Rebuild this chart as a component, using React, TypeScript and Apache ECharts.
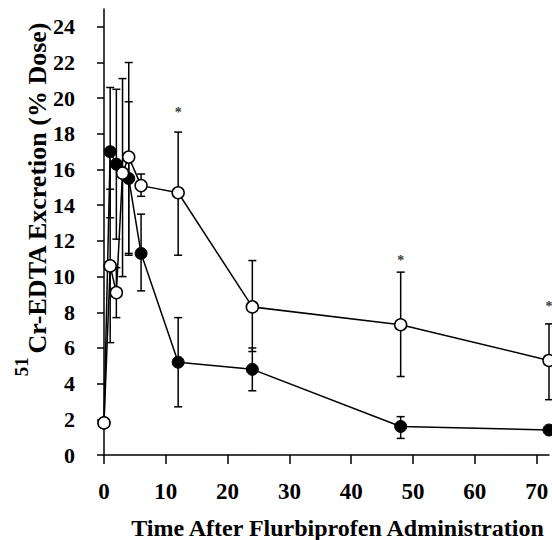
import React, { useEffect, useRef } from "react";
import * as echarts from "echarts";

// Time (h)
const times = [0, 1, 2, 3, 4, 6, 12, 24, 48, 72];
// Open circles series
const openMean = [1.8, 10.6, 9.1, 15.8, 16.7, 15.1, 14.7, 8.3, 7.3, 5.3];
const openUpper = [null, 14.9, 10.5, 21.1, 22.0, 15.75, 18.1, 10.9, 10.25, 7.35];
const openLower = [null, 6.3, 7.7, 10.0, 11.3, 14.5, 11.2, 5.8, 4.4, 3.1];
// Filled circles series
const filledMean = [1.8, 17.0, 16.3, 15.8, 15.5, 11.3, 5.2, 4.8, 1.6, 1.4];
const filledUpper = [null, 20.6, 20.5, null, 19.8, 13.5, 7.7, 6.0, 2.15, null];
const filledLower = [null, 13.3, 12.1, null, 11.2, 9.2, 2.7, 3.6, 0.93, null];
// Significance markers
const starTimes = [12, 48, 72];
const starY = [19.2, 10.9, 8.3];
// Axis ticks
const xTicks = [0, 10, 20, 30, 40, 50, 60, 70];
const yTicks = [0, 2, 4, 6, 8, 10, 12, 14, 16, 18, 20, 22, 24];

const FONT = "'Liberation Serif', 'Times New Roman', serif";

function errData(up: (number | null)[], lo: (number | null)[]) {
  const out: number[][] = [];
  times.forEach((t, i) => {
    const u = up[i];
    const l = lo[i];
    if (u != null && l != null) out.push([t, l, u]);
  });
  return out;
}

function errSeries(data: number[][], z: number) {
  return {
    type: "custom",
    z,
    silent: true,
    data,
    renderItem: (params: any, api: any) => {
      const x = api.value(0);
      const lo = api.coord([x, api.value(1)]);
      const hi = api.coord([x, api.value(2)]);
      const hw = 4;
      const style = { stroke: "#000", lineWidth: 1.5 };
      return {
        type: "group",
        children: [
          { type: "line", shape: { x1: lo[0], y1: lo[1], x2: hi[0], y2: hi[1] }, style },
          { type: "line", shape: { x1: hi[0] - hw, y1: hi[1], x2: hi[0] + hw, y2: hi[1] }, style },
          { type: "line", shape: { x1: lo[0] - hw, y1: lo[1], x2: lo[0] + hw, y2: lo[1] }, style },
        ],
      };
    },
  };
}

export default function App() {
  const ref = useRef<HTMLDivElement>(null);
  useEffect(() => {
    if (!ref.current) return;
    const chart = echarts.init(ref.current, null, { renderer: "svg" });
    chart.setOption({
      animation: false,
      backgroundColor: "#fff",
      textStyle: { fontFamily: FONT, color: "#000" },
      grid: { left: 104, right: 3, top: 9, bottom: 85, outerBoundsMode: "none", containLabel: false },
      xAxis: {
        type: "value",
        min: 0,
        max: 72,
        interval: 10,
        name: "Time After Flurbiprofen Administration",
        nameLocation: "middle",
        nameGap: 61,
        nameMoveOverlap: false,
        nameTextStyle: {
          fontFamily: FONT,
          fontWeight: "bold",
          fontSize: 24,
          color: "#000",
          padding: [0, 0, 0, 22],
        },
        axisLine: { lineStyle: { color: "#000", width: 1.5 } },
        axisTick: { show: true, length: 9, customValues: xTicks, lineStyle: { color: "#000", width: 1.5 } },
        axisLabel: {
          customValues: xTicks,
          color: "#000",
          fontFamily: FONT,
          fontWeight: "bold",
          fontSize: 23,
          margin: 25,
        },
        splitLine: { show: false },
      },
      yAxis: {
        type: "value",
        min: 0,
        max: 25,
        interval: 2,
        name: "{sup|51}{main|Cr-EDTA Excretion (% Dose)}",
        nameLocation: "middle",
        nameGap: 42,
        nameMoveOverlap: false,
        nameTextStyle: {
          fontFamily: FONT,
          fontWeight: "bold",
          color: "#000",
          padding: [0, 0, 0, 66],
          rich: {
            sup: {
              fontFamily: FONT,
              fontWeight: "bold",
              fontSize: 19,
              lineHeight: 18,
              verticalAlign: "top",
              color: "#000",
              padding: [0, 3, 0, 0],
            },
            main: {
              fontFamily: FONT,
              fontWeight: "bold",
              fontSize: 26,
              lineHeight: 50,
              verticalAlign: "middle",
              color: "#000",
            },
          },
        },
        axisLine: { show: true, lineStyle: { color: "#000", width: 1.5 } },
        axisTick: { show: true, length: 7, customValues: yTicks, lineStyle: { color: "#000", width: 1.5 } },
        axisLabel: {
          customValues: yTicks,
          color: "#000",
          fontFamily: FONT,
          fontWeight: "bold",
          fontSize: 22,
          margin: 29,
        },
        splitLine: { show: false },
      },
      series: [
        errSeries(errData(filledUpper, filledLower), 1),
        errSeries(errData(openUpper, openLower), 1),
        {
          type: "line",
          z: 3,
          data: times.map((t, i) => [t, filledMean[i]]),
          symbol: "circle",
          symbolSize: 12,
          lineStyle: { color: "#000", width: 1.5 },
          itemStyle: { color: "#000", borderColor: "#000", borderWidth: 1 },
          clip: false,
        },
        {
          type: "line",
          z: 4,
          data: times.map((t, i) => [t, openMean[i]]),
          symbol: "circle",
          symbolSize: 12,
          lineStyle: { color: "#000", width: 1.5 },
          itemStyle: { color: "#fff", borderColor: "#000", borderWidth: 1.5 },
          clip: false,
        },
        {
          type: "scatter",
          z: 5,
          symbolSize: 1,
          itemStyle: { color: "rgba(0,0,0,0)" },
          data: starTimes.map((t, i) => [t, starY[i]]),
          label: {
            show: true,
            position: "inside",
            formatter: "*",
            color: "#000",
            fontFamily: FONT,
            fontWeight: "bold",
            fontSize: 14,
          },
        },
      ],
    });
    return () => chart.dispose();
  }, []);
  return (
    <div
      ref={ref}
      style={{ position: "absolute", left: 0, top: 0, width: 552, height: 540 }}
    />
  );
}
